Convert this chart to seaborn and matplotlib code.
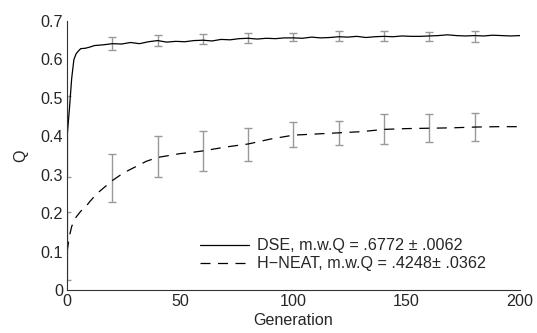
import numpy as np
import pandas as pd
import matplotlib
matplotlib.use("Agg")
import matplotlib.pyplot as plt
import seaborn as sns

# 曲线数据
dse_gen = [0, 1, 2, 3, 4, 5, 6, 8, 10] + list(range(12, 201, 4))
dse_q = [0.40, 0.47, 0.55, 0.60, 0.615, 0.622, 0.628, 0.629, 0.632,
         0.636, 0.638, 0.641, 0.640, 0.644, 0.641, 0.646, 0.649, 0.645, 0.647,
         0.646, 0.649, 0.650, 0.648, 0.652, 0.651, 0.654, 0.655, 0.653, 0.655,
         0.654, 0.656, 0.656, 0.655, 0.658, 0.656, 0.657, 0.659, 0.658, 0.660,
         0.657, 0.659, 0.660, 0.659, 0.661, 0.660, 0.660, 0.661, 0.662, 0.664,
         0.662, 0.661, 0.662, 0.661, 0.663, 0.662, 0.661, 0.662]

neat_gen = [0, 1, 2, 3, 4, 6, 8, 10, 13, 16, 20, 25, 30, 35, 40, 45, 50, 55, 60,
            70, 80, 90, 100, 110, 120, 130, 140, 150, 160, 170, 180, 190, 200]
neat_q = [0.10, 0.14, 0.165, 0.18, 0.19, 0.205, 0.215, 0.23, 0.25, 0.265, 0.285,
          0.305, 0.32, 0.335, 0.345, 0.35, 0.355, 0.358, 0.362, 0.372, 0.380,
          0.393, 0.403, 0.406, 0.409, 0.412, 0.418, 0.420, 0.421, 0.422, 0.424,
          0.425, 0.425]

# 误差棒
err_gen = [0, 20, 40, 60, 80, 100, 120, 140, 160, 180]
dse_mean = [0.40, 0.641, 0.649, 0.652, 0.656, 0.658, 0.661, 0.660, 0.660, 0.660]
dse_err = [0.106, 0.017, 0.015, 0.013, 0.012, 0.011, 0.012, 0.013, 0.011, 0.014]
neat_mean = [0.115, 0.291, 0.347, 0.361, 0.378, 0.404, 0.408, 0.419, 0.422, 0.424]
neat_err = [0.089, 0.062, 0.053, 0.052, 0.043, 0.033, 0.031, 0.040, 0.036, 0.037]

labels = ["DSE, m.w.Q = .6772 \u00b1 .0062", "H\u2212NEAT, m.w.Q = .4248\u00b1 .0362"]

sns.set_style("white")
plt.rcParams['font.family'] = ['Liberation Sans', 'DejaVu Sans']
plt.rcParams['xtick.direction'] = 'in'
plt.rcParams['ytick.direction'] = 'in'

fig = plt.figure(figsize=(5.37, 3.33), dpi=100)
ax = fig.add_axes([0.125, 0.129, 0.843, 0.808])

df_dse = pd.DataFrame({"Generation": dse_gen, "Q": dse_q})
df_neat = pd.DataFrame({"Generation": neat_gen, "Q": neat_q})

ax.errorbar(err_gen, dse_mean, yerr=dse_err, fmt="none", ecolor="#999999",
            elinewidth=1.0, capsize=2.6, capthick=1.0)
ax.errorbar(err_gen, neat_mean, yerr=neat_err, fmt="none", ecolor="#999999",
            elinewidth=1.0, capsize=2.6, capthick=1.0)

sns.lineplot(data=df_dse, x="Generation", y="Q", ax=ax, color="black",
             linewidth=0.9, label=labels[0])
sns.lineplot(data=df_neat, x="Generation", y="Q", ax=ax, color="black",
             linewidth=0.9, linestyle=(0, (8, 6)), label=labels[1])

ax.set_xlim(0, 200)
ax.set_ylim(0, 0.7)
ax.set_xticks([0, 50, 100, 150, 200])
ax.set_yticks(np.arange(0, 0.71, 0.1))
ax.set_yticklabels(["0", "0.1", "0.2", "0.3", "0.4", "0.5", "0.6", "0.7"])
ax.tick_params(labelsize=11.6, length=4, width=0.8, color="#333333", pad=3)
ax.set_xlabel("Generation", fontsize=11.6, labelpad=3)
ax.set_ylabel("Q", fontsize=11.6, labelpad=9)

for s in ["top", "right"]:
    ax.spines[s].set_visible(False)
for s in ["left", "bottom"]:
    ax.spines[s].set_color("#333333")
    ax.spines[s].set_linewidth(0.8)

ax.legend(loc="lower left", bbox_to_anchor=(0.28, 0.045), frameon=False,
          fontsize=11.6, handlelength=3.0, handletextpad=0.5, labelspacing=0.2,
          borderaxespad=0)

fig.savefig("out.png", dpi=100)
